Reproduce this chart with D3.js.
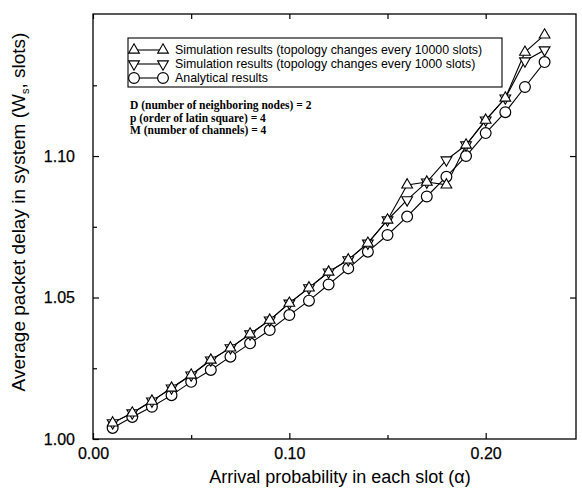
<!DOCTYPE html>
<html>
<head>
<meta charset="utf-8">
<script src="https://cdn.jsdelivr.net/npm/d3@7"></script>
<style>
  body { margin: 0; background: #fff; }
  svg { display: block; }
  .axis path { display: none; }
  .axis line { stroke: #000; stroke-width: 1.2; }
  .axis text { font-family: "Liberation Sans", Arial, sans-serif; font-size: 16px; fill: #000; stroke: #000; stroke-width: 0.25; }
</style>
</head>
<body>
<div class="chart"></div>
<script>
// arrival probability (alpha)
const alpha = [0.01, 0.02, 0.03, 0.04, 0.05, 0.06, 0.07, 0.08, 0.09, 0.10, 0.11, 0.12,
               0.13, 0.14, 0.15, 0.16, 0.17, 0.18, 0.19, 0.20, 0.21, 0.22, 0.23]

// simulation, topology changes every 10000 slots
const sim10000 = [1.0057, 1.0092, 1.0134, 1.0180, 1.0226, 1.0279, 1.0322, 1.0371, 1.0420, 1.0480, 1.0534, 1.0590,
                  1.0633, 1.0692, 1.0774, 1.0898, 1.0908, 1.0898, 1.1039, 1.1127, 1.1205, 1.1367, 1.1428]
// simulation, topology changes every 1000 slots
const sim1000 = [1.0057, 1.0092, 1.0134, 1.0180, 1.0226, 1.0279, 1.0322, 1.0371, 1.0420, 1.0480, 1.0534, 1.0590,
                 1.0633, 1.0692, 1.0774, 1.0845, 1.0908, 1.0986, 1.1039, 1.1127, 1.1205, 1.1336, 1.1375]
// analytical
const analytical = [1.0039, 1.0078, 1.0114, 1.0155, 1.0202, 1.0244, 1.0291, 1.0338, 1.0385, 1.0438, 1.0489, 1.0546,
                    1.0603, 1.0662, 1.0721, 1.0786, 1.0857, 1.0927, 1.1000, 1.1081, 1.1155, 1.1244, 1.1332]

const xMajor = [0, 0.10, 0.20]
const xMinor = [0.05, 0.15]
const yMajor = [1.00, 1.05, 1.10]
const yMinor = [1.025, 1.075, 1.125]

const legendLabels = [
    'Simulation results (topology changes every 10000 slots)',
    'Simulation results (topology changes every 1000 slots)',
    'Analytical results'
]
const notes = [
    'D (number of neighboring nodes) = 2',
    'p (order of latin square) = 4',
    'M (number of channels) = 4'
]

const width = 582
const height = 491
const mLeft = 93, mRight = 576, mTop = 14, mBottom = 439

let svg = d3.select('.chart').append('svg')
    .attr('width', width)
    .attr('height', height)

let x = d3.scaleLinear().domain([0, 0.246]).range([mLeft, mRight])
let y = d3.scaleLinear().domain([1.0, 1.1502]).range([mBottom, mTop])

// frame
svg.append('rect')
    .attr('x', mLeft).attr('y', mTop)
    .attr('width', mRight - mLeft).attr('height', mBottom - mTop)
    .attr('fill', 'none').attr('stroke', '#000').attr('stroke-width', 1.3)

// axes, ticks pointing inward
let fmt = d3.format('.2f')
svg.append('g').attr('class', 'axis')
    .attr('transform', `translate(0,${mBottom})`)
    .call(d3.axisBottom(x).tickValues(xMajor).tickSize(-6).tickPadding(9).tickFormat(fmt))
svg.append('g').attr('class', 'axis')
    .attr('transform', `translate(0,${mBottom})`)
    .call(d3.axisBottom(x).tickValues(xMinor).tickSize(-4).tickFormat(''))
svg.append('g').attr('class', 'axis')
    .attr('transform', `translate(0,${mTop})`)
    .call(d3.axisTop(x).tickValues(xMajor.concat(xMinor)).tickSize(-5).tickFormat(''))

svg.append('g').attr('class', 'axis')
    .attr('transform', `translate(${mLeft},0)`)
    .call(d3.axisLeft(y).tickValues(yMajor).tickSize(-6).tickPadding(18).tickFormat(fmt))
svg.append('g').attr('class', 'axis')
    .attr('transform', `translate(${mLeft},0)`)
    .call(d3.axisLeft(y).tickValues(yMinor).tickSize(-4).tickFormat(''))
svg.append('g').attr('class', 'axis')
    .attr('transform', `translate(${mRight},0)`)
    .call(d3.axisRight(y).tickValues(yMajor.slice(1)).tickSize(-6).tickFormat(''))

// axis titles
svg.append('text')
    .attr('x', 340).attr('y', 483)
    .attr('text-anchor', 'middle')
    .style('font-family', '"Liberation Sans", Arial, sans-serif')
    .style('font-size', '18px')
    .text('Arrival probability in each slot (α)')

let yt = svg.append('text')
    .attr('transform', 'translate(25,212) rotate(-90)')
    .attr('text-anchor', 'middle')
    .style('font-family', '"Liberation Sans", Arial, sans-serif')
    .style('font-size', '19px')
yt.append('tspan').text('Average packet delay in system (W')
yt.append('tspan').attr('dy', 4).style('font-size', '11px').text('s')
yt.append('tspan').attr('dy', -4).text(', slots)')

// series
const series = [
    { vals: sim10000, sym: 'up' },
    { vals: sim1000, sym: 'down' },
    { vals: analytical, sym: 'circle' }
]

let line = d3.line()
    .x(d => x(d[0]))
    .y(d => y(d[1]))

let tri = d3.symbol().type(d3.symbolTriangle).size(50)

let drawMarker = function(g, sym, px, py) {
    if (sym === 'circle') {
        g.append('circle').attr('cx', px).attr('cy', py).attr('r', 5.4)
            .attr('fill', '#fff').attr('stroke', '#000').attr('stroke-width', 1.2)
    } else {
        g.append('path').attr('d', tri)
            .attr('transform', `translate(${px},${py})` + (sym === 'down' ? ' rotate(180)' : ''))
            .attr('fill', '#fff').attr('stroke', '#000').attr('stroke-width', 1.1)
    }
}

let plot = svg.append('g')
series.forEach(s => {
    plot.append('path')
        .datum(alpha.map((a, i) => [a, s.vals[i]]))
        .attr('d', line)
        .attr('fill', 'none')
        .attr('stroke', '#000')
        .attr('stroke-width', 1.1)
})
series.slice().reverse().forEach(s => {
    let g = plot.append('g')
    alpha.forEach((a, i) => drawMarker(g, s.sym, x(a), y(s.vals[i])))
})

// legend
let lg = svg.append('g')
lg.append('rect')
    .attr('x', 128).attr('y', 38).attr('width', 374).attr('height', 49)
    .attr('fill', '#fff').attr('stroke', '#000').attr('stroke-width', 1.1)
series.forEach((s, i) => {
    let ly = 50 + i * 14
    lg.append('line').attr('x1', 134).attr('x2', 163).attr('y1', ly).attr('y2', ly)
        .attr('stroke', '#000').attr('stroke-width', 1.1)
    drawMarker(lg, s.sym, 134, ly)
    drawMarker(lg, s.sym, 163, ly)
    lg.append('text')
        .attr('x', 175).attr('y', ly + 4.3)
        .style('font-family', '"Liberation Sans", Arial, sans-serif')
        .style('font-size', '12.4px')
        .text(legendLabels[i])
})

// parameter notes
notes.forEach((t, i) => {
    svg.append('text')
        .attr('x', 130).attr('y', [109, 122, 134][i])
        .style('font-family', '"Liberation Serif", "Times New Roman", serif')
        .style('font-size', '11.5px')
        .style('font-weight', 'bold')
        .text(t)
})
</script>
</body>
</html>
